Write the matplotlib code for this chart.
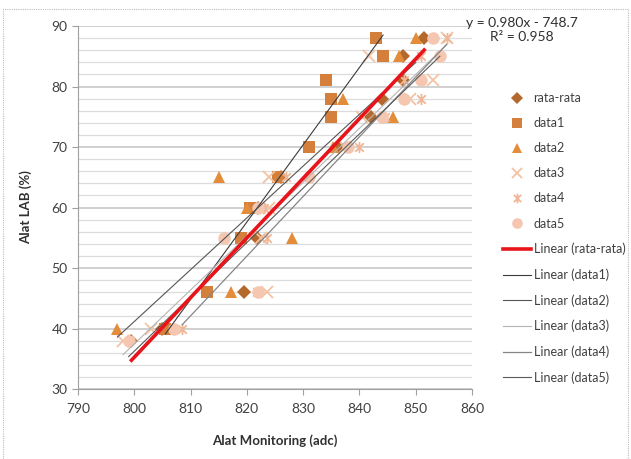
import matplotlib
matplotlib.use("Agg")
import matplotlib.pyplot as plt
import numpy as np
from matplotlib.path import Path
from matplotlib.lines import Line2D
from matplotlib.patches import Rectangle

plt.rcParams['font.family'] = ['Lato', 'DejaVu Sans']

# data
rata_x = [851.5, 847.7, 847.7, 844, 842, 836.4, 826, 822, 821.8, 819.5, 805, 799.5]
rata_y = [88, 85, 81, 78, 75, 70, 65, 60, 55, 46, 40, 38]

data1_x = [843, 844.2, 834, 835, 835, 831, 825.5, 820.5, 819, 813, 805.5]
data1_y = [88, 85, 81, 78, 75, 70, 65, 60, 55, 46, 40]

data2_x = [850, 847, 837, 846, 835.3, 815, 820, 828, 817.2, 797]
data2_y = [88, 85, 78, 75, 70, 65, 60, 55, 46, 40]

data3_x = [855.5, 841.7, 853, 849, 840.5, 837.5, 824, 824, 822.5, 823.5, 803, 798]
data3_y = [88, 85, 81, 78, 75, 70, 65, 60, 55, 46, 40, 38]

data4_x = [855.5, 851, 848, 851, 844.5, 840, 827, 823, 823.5, 821.8, 808.5]
data4_y = [88, 85, 81, 78, 75, 70, 65, 60, 55, 46, 40]

data5_x = [853, 854.3, 851, 848, 844, 838, 831, 822, 816, 822, 807, 799]
data5_y = [88, 85, 81, 78, 75, 70, 65, 60, 55, 46, 40, 38]

eq_text = "y = 0.980x - 748.7\nR² = 0.958"

# excel style star marker (x with a vertical bar)
star = Path([(-1, -1), (1, 1), (-1, 1), (1, -1), (0, -1.3), (0, 1.3)],
            [Path.MOVETO, Path.LINETO, Path.MOVETO, Path.LINETO, Path.MOVETO, Path.LINETO])

series = [
    ("rata-rata", rata_x, rata_y, dict(marker='D', color='#B5682C', ms=7, mew=0)),
    ("data1", data1_x, data1_y, dict(marker='s', color='#D4803C', ms=8.5, mew=0)),
    ("data2", data2_x, data2_y, dict(marker='^', color='#E38C3A', ms=9, mew=0)),
    ("data3", data3_x, data3_y, dict(marker='x', color='#F3C3A2', ms=8, mew=1.3)),
    ("data4", data4_x, data4_y, dict(marker=star, color='#F0B698', ms=8, mew=1.3)),
    ("data5", data5_x, data5_y, dict(marker='o', color='#F5C6B0', ms=9, mew=0)),
]
trend_style = [
    ("Linear (rata-rata)", '#E8141B', 2.6),
    ("Linear (data1)", '#3a3a3a', 0.8),
    ("Linear (data2)", '#555555', 0.8),
    ("Linear (data3)", '#b5b5b5', 0.8),
    ("Linear (data4)", '#858585', 0.9),
    ("Linear (data5)", '#5a5a5a', 0.8),
]

fig = plt.figure(figsize=(6.31, 4.59), dpi=100)
ax = fig.add_axes([78 / 631, 70 / 459, 394 / 631, 363 / 459])

for name, xs, ys, st in series:
    ax.plot(xs, ys, linestyle='none', zorder=3, **st)

# linear trend lines over the range of each series
for (name, xs, ys, st), (lname, col, lw) in zip(series, trend_style):
    k, b = np.polyfit(xs, ys, 1)
    xx = np.array([min(xs), max(xs)])
    ax.plot(xx, k * xx + b, color=col, lw=lw, zorder=5 if lw > 2 else 4)

ax.set_xlim(790, 860)
ax.set_ylim(30, 90)
ax.set_xticks(np.arange(790, 861, 10))
ax.set_yticks(np.arange(30, 91, 10))
ax.set_yticks(np.arange(30, 91, 2), minor=True)
ax.grid(axis='y', which='minor', color='#dcdcdc', lw=0.9)
ax.grid(axis='y', which='major', color='#c4c4c4', lw=1.1)
ax.set_axisbelow(True)
for s in ['top', 'right']:
    ax.spines[s].set_visible(False)
for s in ['left', 'bottom']:
    ax.spines[s].set_color('#a0a0a0')
ax.tick_params(axis='both', which='major', colors='#a0a0a0', labelcolor='#404040',
               labelsize=10, length=4)
ax.tick_params(axis='y', which='minor', length=0)
ax.tick_params(axis='x', pad=6)

ax.set_xlabel("Alat Monitoring (adc)", fontsize=9.5, fontweight='bold', color='#303030', labelpad=14)
ax.set_ylabel("Alat LAB (%)", fontsize=9.5, fontweight='bold', color='#303030', labelpad=14)

fig.text(522 / 631, 1 - 30 / 459, eq_text, ha='center', va='center', fontsize=10,
         color='#303030', linespacing=1.2)

handles = []
labels = []
for name, xs, ys, st in series:
    handles.append(Line2D([], [], linestyle='none', **st))
    labels.append(name)
for lname, col, lw in trend_style:
    handles.append(Line2D([], [], color=col, lw=lw))
    labels.append(lname)
leg = fig.legend(handles, labels, loc='upper left', bbox_to_anchor=(498 / 631, 1 - 87 / 459),
                 frameon=False, fontsize=9, handlelength=2.2, handletextpad=0.25,
                 labelspacing=1.05, borderaxespad=0, markerscale=0.85)
for t in leg.get_texts():
    t.set_color('#404040')

fig.patches.append(Rectangle((3 / 631, -0.05), 625 / 631, 1.05 - 9 / 459, transform=fig.transFigure,
                             fill=False, edgecolor='#bdbdbd', lw=0.8, linestyle=(0, (1, 1))))

fig.savefig("out.png", dpi=100)
